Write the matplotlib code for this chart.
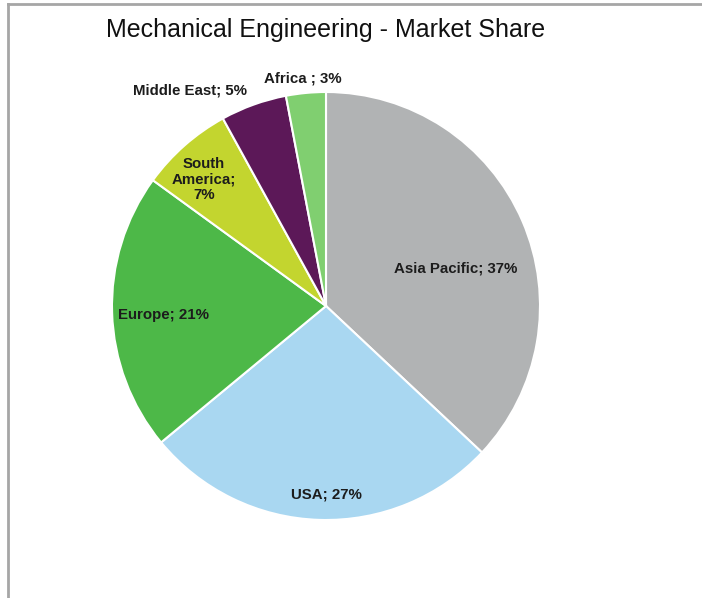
import numpy as np
import matplotlib
matplotlib.use("Agg")
import matplotlib.pyplot as plt
from matplotlib.lines import Line2D

plt.rcParams["font.family"] = ["Liberation Sans", "DejaVu Sans"]

regions = ["Asia Pacific", "USA", "Europe", "South\nAmerica", "Middle East", "Africa "]
shares = [37, 27, 21, 7, 5, 3]
colors = ["#b1b3b4", "#a9d7f1", "#4db848", "#c3d52f", "#5c1858", "#80cf70"]

# label placement as (radius, angle in degrees) relative to the pie centre
label_pos = [(0.63, 16), (0.88, -90), (0.76, -177), (0.82, 134), (1.19, 122.2), (1.07, 95.8)]

W, H = 702, 598
cx, cy, R = 326, 306, 214

fig = plt.figure(figsize=(W / 100, H / 100), dpi=100)
ax = fig.add_axes([(cx - R) / W, (H - cy - R) / H, 2 * R / W, 2 * R / H])

ax.pie(shares, colors=colors, startangle=90, counterclock=False, radius=1,
       wedgeprops=dict(edgecolor="white", linewidth=1.5))
# pie() widens the limits, pin them back so the radius fills the axes
ax.set_xlim(-1, 1)
ax.set_ylim(-1, 1)
ax.set_aspect("auto")
ax.axis("off")

for name, val, (r, ang) in zip(regions, shares, label_pos):
    sep = ";\n" if "\n" in name else "; "
    t = np.deg2rad(ang)
    ax.text(r * np.cos(t), r * np.sin(t), f"{name}{sep}{val}%", ha="center", va="center",
            fontsize=10.8, fontweight="bold", color="#1c1c1c", linespacing=1.15)

fig.text(cx / W, 1 - 30 / H, "Mechanical Engineering - Market Share", ha="center", va="center",
         fontsize=18, color="#111111")

# thin frame along the top and left edges
fig.add_artist(Line2D([8 / W, 1], [1 - 4 / H, 1 - 4 / H], color="#a6a6a6", lw=2))
fig.add_artist(Line2D([8 / W, 8 / W], [0, 1 - 4 / H], color="#a6a6a6", lw=2))

fig.savefig("out.png", dpi=100)
